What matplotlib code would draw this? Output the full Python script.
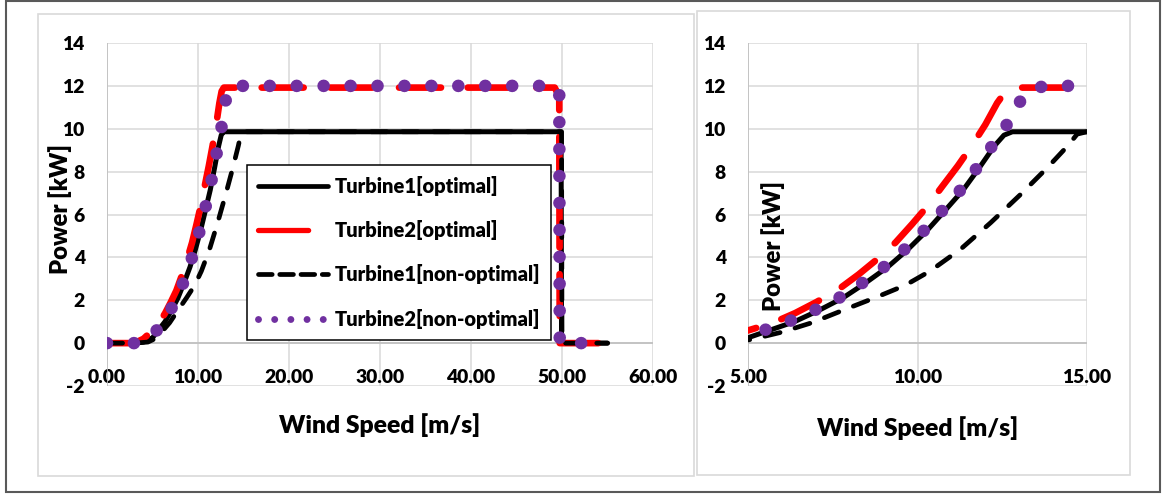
import matplotlib
matplotlib.use("Agg")
import matplotlib.pyplot as plt
from matplotlib.lines import Line2D
from matplotlib.patches import Rectangle

# ---- power curves: wind speed [m/s] -> power [kW] ----
t1_opt_ws = [0, 3.0, 4.0, 5.0, 5.6, 6.37, 7.08, 7.79, 8.46, 9.12, 9.71, 10.28,
             10.82, 11.35, 11.81, 12.27, 12.55, 12.8, 13.0, 49.9, 49.95, 55.0]
t1_opt_kw = [0, 0, 0.05, 0.25, 0.58, 1.0, 1.52, 2.1, 2.8, 3.55, 4.36, 5.25,
             6.2, 7.15, 8.15, 9.2, 9.7, 9.86, 9.86, 9.86, 0, 0]

t2_opt_ws = [0, 3.0, 4.0, 5.0, 5.74, 6.39, 7.0, 7.62, 8.26, 8.8, 9.35, 9.84,
             10.3, 10.72, 11.19, 11.6, 12.0, 12.35, 12.6, 12.84, 13.2, 49.2,
             49.7, 49.75, 54.0]
t2_opt_kw = [0, 0, 0.2, 0.59, 0.95, 1.4, 1.9, 2.45, 3.2, 3.9, 4.69, 5.55,
             6.4, 7.29, 8.27, 9.2, 10.19, 11.2, 11.75, 11.92, 11.92, 11.92,
             11.5, 0, 0]

t1_non_ws = [0, 3.0, 4.5, 5.1, 5.99, 6.88, 7.86, 8.75, 9.64, 10.37, 11.27,
             12.16, 13.05, 13.84, 14.43, 14.71, 15.0, 49.95, 50.0, 55.0]
t1_non_kw = [0, 0, 0.05, 0.17, 0.51, 0.95, 1.57, 2.12, 2.7, 3.36, 4.38,
             5.62, 6.95, 8.2, 9.2, 9.75, 9.86, 9.86, 0, 0]

t2_non_ws = [0, 3.0, 4.0, 5.0, 5.6, 6.37, 7.08, 7.79, 8.46, 9.12, 9.71, 10.28,
             10.82, 11.35, 11.81, 12.27, 12.73, 13.12, 13.5, 13.78, 49.2, 49.7,
             49.75, 52.5]
t2_non_kw = [0, 0, 0.1, 0.35, 0.67, 1.11, 1.62, 2.2, 2.9, 3.68, 4.5, 5.39,
             6.33, 7.29, 8.30, 9.36, 10.41, 11.54, 11.9, 12.0, 12.0, 11.8, 0, 0]

series_names = ["Turbine1[optimal]", "Turbine2[optimal]",
                "Turbine1[non-optimal]", "Turbine2[non-optimal]"]

full_xticks = [0, 10, 20, 30, 40, 50, 60]
zoom_xticks = [5, 10, 15]
power_ticks = [-2, 0, 2, 4, 6, 8, 10, 12, 14]

plt.rcParams["font.family"] = ["Lato", "DejaVu Sans"]
plt.rcParams["font.weight"] = "bold"

W, H, DPI = 1162, 494, 100
fig = plt.figure(figsize=(W / DPI, H / DPI), dpi=DPI)


def px_rect(x0, y0, x1, y1):
    return [x0 / W, 1 - y1 / H, (x1 - x0) / W, (y1 - y0) / H]


# outer frame and the two chart areas
fig.patches.append(Rectangle((6 / W, 1 - 492 / H), 1154 / W, 491 / H,
                             transform=fig.transFigure, fill=False,
                             edgecolor="#595959", lw=1.5))
for x0, y0, x1, y1 in [(38, 14, 694, 476), (697, 11, 1130, 475)]:
    fig.patches.append(Rectangle((x0 / W, 1 - y1 / H), (x1 - x0) / W,
                                 (y1 - y0) / H, transform=fig.transFigure,
                                 fill=False, edgecolor="#D9D9D9", lw=1.2))

axL = fig.add_axes(px_rect(107, 43, 653, 386))
axR = fig.add_axes(px_rect(748, 43, 1087, 386))

RED = "#FF0000"
PURPLE = "#7030A0"
WEIGHT = "heavy"


def draw_series(ax):
    ax.plot(t1_opt_ws, t1_opt_kw, color="black", lw=3.6,
            solid_capstyle="round", solid_joinstyle="round", zorder=3)
    ax.plot(t2_opt_ws, t2_opt_kw, color=RED, lw=4.8, dashes=(6.3, 4.0),
            dash_capstyle="round", dash_joinstyle="round", zorder=4)
    ax.plot(t1_non_ws, t1_non_kw, color="black", lw=3.4, dashes=(3.3, 3.3),
            dash_capstyle="round", dash_joinstyle="round", zorder=5)
    ax.plot(t2_non_ws, t2_non_kw, color=PURPLE, lw=9.1, dashes=(0.001, 2.13),
            dash_capstyle="round", zorder=6)


def style_axes(ax, xlim, xticks, ylabel_xy, xlabel_xy):
    ax.set_xlim(*xlim)
    ax.set_ylim(-2, 14)
    ax.set_xticks(xticks)
    ax.set_xticklabels([f"{v:.2f}" for v in xticks], fontweight=WEIGHT)
    ax.set_yticks(power_ticks)
    ax.set_yticklabels([str(v) for v in power_ticks], fontweight=WEIGHT)
    for s in ax.spines.values():
        s.set_visible(False)
    ax.grid(True, color="#D9D9D9", lw=1.1)
    ax.set_axisbelow(True)
    ax.axhline(0, color="#BFBFBF", lw=1.2, zorder=1.5)
    ax.axvline(xlim[0], color="#BFBFBF", lw=1.2, zorder=1.5)
    ax.tick_params(axis="both", length=0, labelsize=13.9, colors="black")
    ax.tick_params(axis="y", pad=16)
    ax.tick_params(axis="x", pad=-12.5)
    ax.set_xlabel("Wind Speed [m/s]", fontsize=17.8, fontweight=WEIGHT,
                  va="center", ha="center")
    ax.xaxis.set_label_coords(*xlabel_xy)
    ax.set_ylabel("Power [kW]", fontsize=17.2, fontweight=WEIGHT,
                  va="center", ha="center")
    ax.yaxis.set_label_coords(*ylabel_xy)


draw_series(axL)
draw_series(axR)
style_axes(axL, (0, 60), full_xticks, (-0.086, 0.516), (0.5, -0.114))
style_axes(axR, (5, 15), zoom_xticks, (0.074, 0.408), (0.5, -0.122))
axR.yaxis.label.set_zorder(7)

handles = [
    Line2D([], [], color="black", lw=3.4, solid_capstyle="round"),
    Line2D([], [], color=RED, lw=3.8, dashes=(9.5, 4.0), dash_capstyle="round"),
    Line2D([], [], color="black", lw=3.4, dashes=(2.9, 1.6), dash_capstyle="round"),
    Line2D([], [], color=PURPLE, lw=5.0, dashes=(0.001, 2.33), dash_capstyle="round"),
]
leg = axL.legend(handles, series_names, loc="upper left",
                 bbox_to_anchor=(247 / W, 1 - 165 / H),
                 bbox_transform=fig.transFigure, fontsize=14.5,
                 frameon=True, fancybox=False, framealpha=1,
                 edgecolor="black", handlelength=3.45, handletextpad=0.34,
                 borderpad=0.55, labelspacing=1.2, borderaxespad=0)
leg.get_frame().set_linewidth(1.1)
leg.set_zorder(10)
for t in leg.get_texts():
    t.set_fontweight(WEIGHT)

fig.savefig("out.png", dpi=DPI, facecolor="white")
